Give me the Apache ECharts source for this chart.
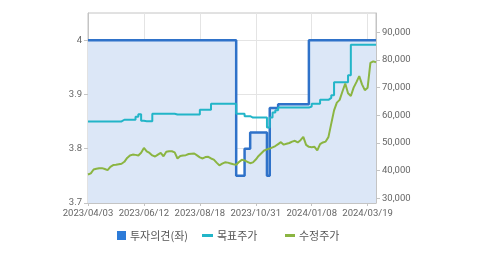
<!DOCTYPE html>
<html>
<head>
<meta charset="utf-8">
<script src="https://cdn.jsdelivr.net/npm/echarts@6/dist/echarts.min.js"></script>
<style>
html,body{margin:0;padding:0;background:#fff;}
#chart{width:479px;height:255px;}
</style>
</head>
<body>
<div id="chart"></div>
<script>
var dates = [
'2023/04/03','2023/04/06','2023/04/10','2023/04/13','2023/04/17','2023/04/20','2023/04/24','2023/04/27','2023/05/02','2023/05/04',
'2023/05/09','2023/05/11','2023/05/16','2023/05/18','2023/05/22','2023/05/25','2023/05/30','2023/06/01','2023/06/05','2023/06/08',
'2023/06/12','2023/06/15','2023/06/19','2023/06/22','2023/06/26','2023/06/29','2023/07/03','2023/07/06','2023/07/10','2023/07/13',
'2023/07/17','2023/07/20','2023/07/24','2023/07/27','2023/07/31','2023/08/03','2023/08/07','2023/08/10','2023/08/14','2023/08/16',
'2023/08/18','2023/08/22','2023/08/25','2023/08/29','2023/09/01','2023/09/05','2023/09/08','2023/09/12','2023/09/15','2023/09/19',
'2023/09/22','2023/09/26','2023/10/04','2023/10/06','2023/10/11','2023/10/13','2023/10/17','2023/10/20','2023/10/24','2023/10/27',
'2023/10/31','2023/11/03','2023/11/07','2023/11/10','2023/11/14','2023/11/17','2023/11/21','2023/11/24','2023/11/28','2023/12/01',
'2023/12/05','2023/12/08','2023/12/12','2023/12/15','2023/12/19','2023/12/22','2023/12/27','2023/12/29','2024/01/03','2024/01/05',
'2024/01/08','2024/01/11','2024/01/15','2024/01/18','2024/01/22','2024/01/25','2024/01/29','2024/02/01','2024/02/05','2024/02/08',
'2024/02/14','2024/02/16','2024/02/20','2024/02/23','2024/02/27','2024/03/04','2024/03/06','2024/03/08','2024/03/12','2024/03/14',
'2024/03/19','2024/03/21','2024/03/25','2024/03/28'
];

// 투자의견 (left axis)
var opinion = [
4,4,4,4,4,4,4,4,4,4,
4,4,4,4,4,4,4,4,4,4,
4,4,4,4,4,4,4,4,4,4,
4,4,4,4,4,4,4,4,4,4,
4,4,4,4,4,4,4,4,4,4,
4,4,4,3.75,3.75,3.75,3.8,3.8,3.83,3.83,
3.83,3.83,3.83,3.83,3.75,3.875,3.875,3.875,3.882,3.882,
3.882,3.882,3.882,3.882,3.882,3.882,3.882,3.882,3.882,4,
4,4,4,4,4,4,4,4,4,4,
4,4,4,4,4,4,4,4,4,4,
4,4,4,4
];

// 목표주가 (right axis)
var target = [
57800,57800,57800,57800,57800,57800,57800,57800,57800,57800,
57800,57800,58400,58400,58400,58400,58400,59500,60400,58000,
57900,57900,57900,60600,60600,60600,60600,60600,60600,60600,
60600,60300,60300,60300,60300,60300,60300,60300,60300,60300,
62000,62000,62000,62000,64200,64200,64200,64200,64200,64200,
64200,64200,64200,60600,60600,60600,59700,59700,59200,59200,
59200,59200,59200,59200,55600,59200,61000,61800,62800,62800,
62800,62800,62800,62800,62800,62800,62800,62800,62800,63200,
64200,64200,64200,65600,65600,65600,66300,67300,72000,72000,
72000,72000,72000,74500,85500,85500,85500,85500,85500,85500,
85500,85500,85500,85500
];

// 수정주가 (right axis)
var price = [
38600,39000,40400,40700,40900,40900,40600,40200,41400,42000,
42100,42300,42500,43200,44600,45500,45800,45700,45500,46500,
48200,47000,46400,45500,45100,45800,46400,45200,46800,47000,
47000,46600,44400,45300,45500,45600,46000,46100,46200,45500,
44800,44400,44900,45000,44400,44000,42900,41900,42500,43000,
42900,42600,42300,42100,43100,43900,43700,43200,42700,43000,
44000,45300,46300,47300,47700,48000,48400,48900,49600,50300,
49400,49700,50000,50500,50800,50200,51000,52200,49300,48600,
48500,48600,47300,49600,50200,50500,52200,57000,61800,64600,
65600,68600,71500,68000,67000,70000,72000,74200,71200,69100,
70000,79000,79500,79200
];

var leftTicks = [3.7, 3.8, 3.9, 4];
var rightTicks = [30000, 40000, 50000, 60000, 70000, 80000, 90000];

var labelFont = 'Roboto, "Liberation Sans", sans-serif';
var korFont = '"Noto Sans CJK KR", sans-serif';
var gridC = '#e4e4e4';
var axisC = '#c4c4c4';
var txtC = '#666';

function legendItem(left, name, w, h, color) {
  return { left: left, top: 230, padding: 0, itemWidth: w, itemHeight: h, itemGap: 10,
    textStyle: { fontSize: 11, color: '#555', fontFamily: korFont, padding: [0, 0, 0, -1] },
    data: [{ name: name, icon: 'rect', itemStyle: { color: color } }] };
}

var chart = echarts.init(document.getElementById('chart'));
chart.setOption({
  animation: false,
  backgroundColor: '#fff',
  grid: { left: 88, right: 103, top: 13, bottom: 52, show: true, borderColor: axisC, borderWidth: 1 },
  legend: [
    legendItem(117, '투자의견(좌)', 9, 9, '#2d7bd8'),
    legendItem(202, '목표주가', 11, 3, '#22b5c8'),
    legendItem(285, '수정주가', 10, 3, '#8bb542')
  ],
  xAxis: {
    type: 'category', data: dates, boundaryGap: false,
    axisLine: { lineStyle: { color: axisC } },
    axisTick: { show: true, interval: 19, length: 3, lineStyle: { color: axisC } },
    axisLabel: { interval: 19, color: txtC, fontSize: 9.5, fontFamily: labelFont, margin: 6 },
    splitLine: { show: true, interval: 19, lineStyle: { color: gridC } }
  },
  yAxis: [
    { type: 'value', min: 3.7, max: 4.05, interval: 0.1, position: 'left',
      axisLine: { show: true, lineStyle: { color: axisC } },
      axisTick: { show: true, length: 4, customValues: leftTicks, lineStyle: { color: axisC } },
      axisLabel: { customValues: leftTicks, color: txtC, fontSize: 9.5, fontFamily: labelFont, margin: 6,
        formatter: function (v) { return String(+(+v).toFixed(2)); } },
      splitLine: { lineStyle: { color: gridC } } },
    { type: 'value', min: 28300, max: 97000, position: 'right',
      axisLine: { show: true, lineStyle: { color: axisC } },
      axisTick: { show: true, length: 4, customValues: rightTicks, lineStyle: { color: axisC } },
      axisLabel: { customValues: rightTicks, color: txtC, fontSize: 9.5, fontFamily: labelFont, margin: 6,
        formatter: function (v) { return Number(v).toLocaleString('en-US'); } },
      splitLine: { show: false } }
  ],
  series: [
    { name: '투자의견(좌)', type: 'line', yAxisIndex: 0, data: opinion, step: 'end',
      showSymbol: false, symbol: 'none', lineStyle: { color: '#2f72c9', width: 2.5 },
      itemStyle: { color: '#2d7bd8' },
      areaStyle: { color: '#dce7f7', opacity: 1, origin: 'start' }, z: 1 },
    { name: '목표주가', type: 'line', yAxisIndex: 1, data: target, step: 'end',
      showSymbol: false, symbol: 'none', lineStyle: { color: '#22b5c8', width: 2 },
      itemStyle: { color: '#22b5c8' }, z: 2 },
    { name: '수정주가', type: 'line', yAxisIndex: 1, data: price,
      showSymbol: false, symbol: 'none', lineStyle: { color: '#8bb542', width: 2 },
      itemStyle: { color: '#8bb542' }, z: 3 }
  ]
});
</script>
</body>
</html>
